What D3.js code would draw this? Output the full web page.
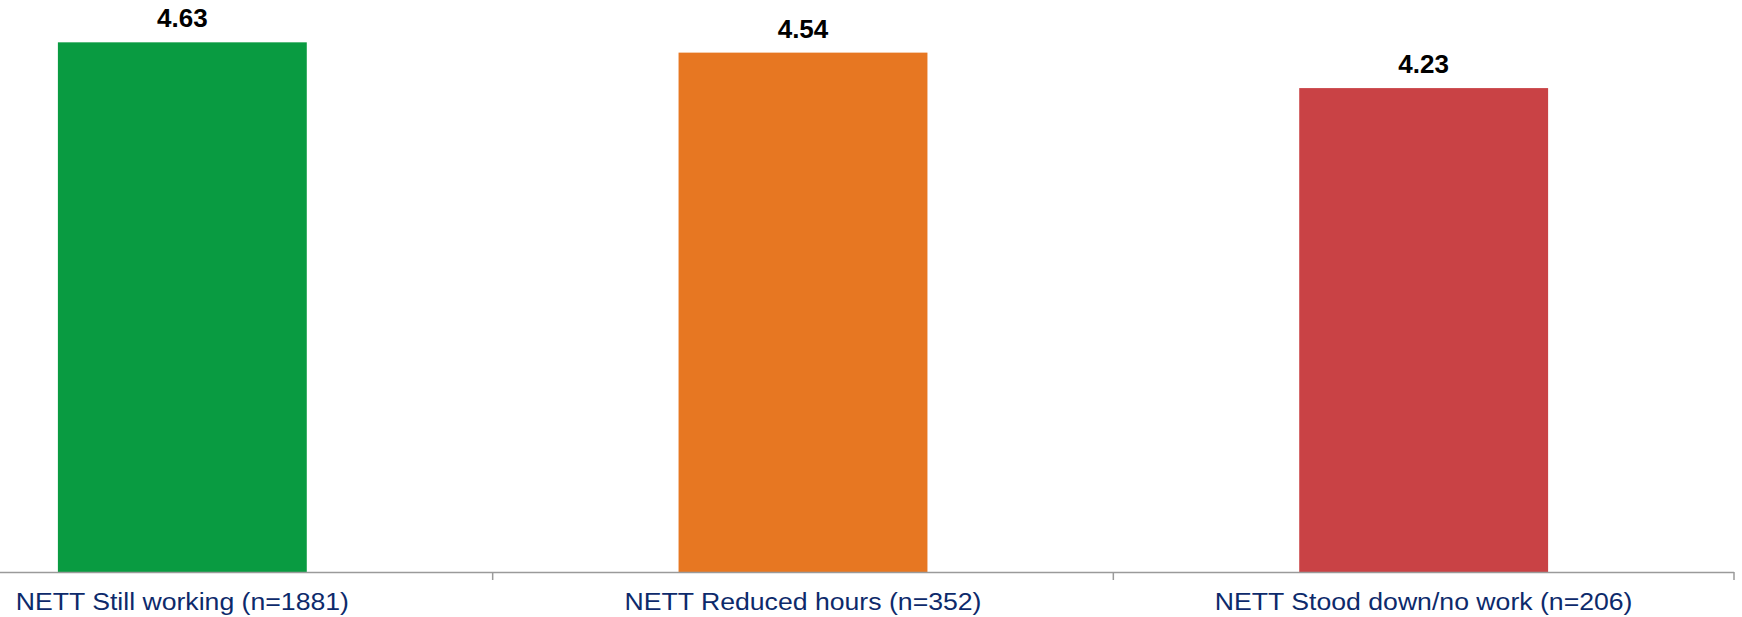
<!DOCTYPE html>
<html>
<head>
<meta charset="utf-8">
<script src="https://cdn.jsdelivr.net/npm/d3@7"></script>
<style>
  html, body { margin: 0; padding: 0; background: #fff; }
  svg { display: block; font-family: "Liberation Sans", Arial, sans-serif; }
</style>
</head>
<body>
<div id="chart"></div>
<script>
// chart data
const categories = ["NETT Still working (n=1881)", "NETT Reduced hours (n=352)", "NETT Stood down/no work (n=206)"];
const values = [4.63, 4.54, 4.23];
const barColors = ["#099b41", "#e77722", "#c94245"];

const width = 1742;
const height = 617;
const axisY = 572;

const svg = d3.select("#chart")
    .append("svg")
    .attr("width", width)
    .attr("height", height)
    .attr("viewBox", [0, 0, width, height]);

// the plot area starts off-canvas on the left, like the original
const x = d3.scaleBand()
    .domain(categories)
    .range([-128, 1734])
    .padding(0);

const y = d3.scaleLinear()
    .domain([0, 5])
    .range([axisY, 0]);

const barW = x.bandwidth() * 0.401;

svg.append("g")
    .selectAll("rect")
    .data(categories)
    .join("rect")
    .attr("x", d => x(d) + x.bandwidth() / 2 - barW / 2)
    .attr("y", (d, i) => y(values[i]))
    .attr("width", barW)
    .attr("height", (d, i) => y(0) - y(values[i]))
    .attr("fill", (d, i) => barColors[i]);

// value labels
svg.append("g")
    .selectAll("text")
    .data(categories)
    .join("text")
    .attr("x", d => x(d) + x.bandwidth() / 2)
    .attr("y", (d, i) => y(values[i]) - 15)
    .attr("text-anchor", "middle")
    .style("font-size", "26px")
    .style("font-weight", "bold")
    .style("fill", "#000")
    .text((d, i) => values[i].toFixed(2));

// x axis: line plus ticks at band edges
const axis = svg.append("g").attr("class", "x-axis");
axis.append("line")
    .attr("x1", 0)
    .attr("x2", x.range()[1])
    .attr("y1", axisY + 0.5)
    .attr("y2", axisY + 0.5)
    .attr("stroke", "#9a9a9a")
    .attr("stroke-width", 1.5);

const tickXs = categories.map(d => x(d)).concat([x.range()[1]]).filter(v => v >= 0);
axis.selectAll(".tick")
    .data(tickXs)
    .join("line")
    .attr("class", "tick")
    .attr("x1", d => d)
    .attr("x2", d => d)
    .attr("y1", axisY)
    .attr("y2", axisY + 8)
    .attr("stroke", "#9a9a9a")
    .attr("stroke-width", 1.5);

// category labels are a little wide in the original, so stretch them slightly
axis.selectAll("text")
    .data(categories)
    .join("text")
    .attr("transform", d => `translate(${x(d) + x.bandwidth() / 2},610) scale(1.11,1)`)
    .attr("text-anchor", "middle")
    .style("font-size", "24px")
    .style("fill", "#0d2a6b")
    .text(d => d);
</script>
</body>
</html>
